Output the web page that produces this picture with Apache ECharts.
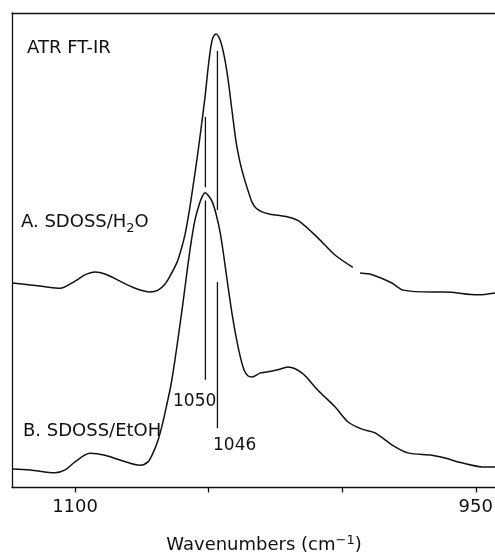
<!DOCTYPE html>
<html>
<head>
<meta charset="utf-8">
<script src="https://cdn.jsdelivr.net/npm/echarts@6/dist/echarts.min.js"></script>
<style>html,body{margin:0;padding:0;background:#fff}#c{width:495px;height:555px}</style>
</head>
<body>
<div id="c"></div>
<script>
// Spectrum A: SDOSS/H2O (wavenumber, relative absorbance); null = break in trace
const aWave = [1123.6,1116.8,1111.2,1105.6,1100,1096.3,1092.5,1088.8,1083.2,1077.5,1071.9,1068.9,1066.3,1064.4,1061.8,1060.3,1058.8,1057.3,1055.8,1054.3,1052.8,1051.3,1050.2,1049.1,1048.4,1047.2,1045.7,1044.2,1042.7,1041.2,1039.7,1038.2,1036.7,1035.2,1033.8,1032.3,1030.0,1027.0,1020.3,1015.8,1009.1,1002.7,996.0,994.6,993.3,988.5,981.4,977.2,966.4,961.5,949.2,942.8];
const aAbs = [43.1,42.7,42.3,42.0,43.5,44.8,45.4,45.0,43.5,42.0,41.2,41.6,42.9,44.6,47.5,50.1,53.4,58.1,63.6,69.4,75.8,82.5,88.4,93.1,94.8,95.6,94.3,91.0,85.9,79.2,72.8,68.4,65.2,62.5,60.2,58.9,58.1,57.6,57.0,56.0,52.6,49.0,46.4,null,45.2,44.8,43.1,41.6,41.2,41.2,40.6,41.0];
// Spectrum B: SDOSS/EtOH
const bWave = [1123.6,1116.8,1107.5,1103.7,1100,1094.4,1088.8,1083.2,1075.7,1072.7,1070.8,1068.9,1067.1,1065.6,1064.1,1062.6,1061.1,1059.6,1058.1,1056.6,1055.1,1053.6,1052.5,1051.3,1050.2,1048.7,1047.2,1045.7,1044.2,1042.7,1041.2,1039.7,1038.2,1036.7,1035.2,1033.8,1030.8,1028.9,1024.0,1020.3,1015.0,1009.1,1002.7,997.8,992.6,987.7,981.4,975.4,966.4,961.5,955.2,946.6,942.8];
const bAbs = [3.9,3.7,3.1,3.7,5.4,7.2,6.8,5.8,4.7,5.4,7.3,10.0,13.8,17.6,21.6,26.9,32.8,38.9,45.4,51.5,56.4,59.5,61.2,62.1,61.6,60.3,57.6,53.8,48.3,42.2,36.5,31.7,27.7,24.7,23.5,23.3,24.1,24.3,24.8,25.4,24.1,20.5,17.0,13.8,12.3,11.5,9.0,7.3,6.8,6.2,5.2,4.3,4.3];
// Peak marker lines: position and [top, bottom] of each drawn segment
const markerWave = [1051.2, 1046.7];
const markerLabels = ['1050', '1046'];
const markerSegments = [
  [[78.1, 63.3], [60.5, 22.7]],
  [[92.0, 58.5], [43.3, 12.5]]
];
// Axis
const xMin = 942.8, xMax = 1123.6;
const tickValues = [1100, 1050, 1000, 950];
const tickLabelValues = [1100, 950];
const xTitle = 'Wavenumbers (cm{sup|−1})';

function pieces(w, v) {
  const out = []; let cur = [];
  for (let i = 0; i < w.length; i++) {
    if (v[i] === null) { if (cur.length) out.push(cur); cur = []; }
    else cur.push([w[i], v[i]]);
  }
  if (cur.length) out.push(cur);
  return out;
}

const INK = '#111';
const FONT = 'DejaVu Sans';
const series = [];
[[aWave, aAbs], [bWave, bAbs]].forEach(([w, v]) => {
  pieces(w, v).forEach(p => series.push({
    type: 'line', data: p, smooth: 0.3, showSymbol: false, symbol: 'none',
    lineStyle: { color: INK, width: 1.5 }, silent: true, animation: false
  }));
});
markerWave.forEach((w, i) => {
  markerSegments[i].forEach(seg => series.push({
    type: 'line', data: [[w, seg[0]], [w, seg[1]]], showSymbol: false, symbol: 'none',
    lineStyle: { color: INK, width: 1.3 }, silent: true, animation: false
  }));
});

const chart = echarts.init(document.getElementById('c'));
chart.setOption({
  backgroundColor: '#fff',
  animation: false,
  grid: { left: 12, top: 13, right: 0, bottom: 67.5, containLabel: false, outerBoundsMode: 'none' },
  xAxis: [{
    type: 'value', min: xMin, max: xMax, inverse: true, position: 'bottom',
    axisLine: { show: true, lineStyle: { color: INK, width: 1.3 } },
    axisTick: { show: true, customValues: tickValues, length: 5, inside: false, lineStyle: { color: INK, width: 1.3 } },
    axisLabel: { customValues: tickLabelValues, color: INK, fontSize: 18, fontFamily: FONT, margin: 11,
      formatter: v => String(v) },
    splitLine: { show: false },
    name: xTitle, nameLocation: 'middle', nameGap: 47,
    nameTextStyle: { color: INK, fontSize: 18, fontFamily: FONT, padding: [0, 0, 0, 21],
      rich: { sup: { fontSize: 13, fontFamily: FONT, color: INK, padding: [0, 0, 9, 0] } } }
  }, {
    type: 'value', min: xMin, max: xMax, inverse: true, position: 'top',
    axisLine: { show: true, lineStyle: { color: INK, width: 1.3 } },
    axisTick: { show: false }, axisLabel: { show: false }, splitLine: { show: false }
  }],
  yAxis: {
    type: 'value', min: 0, max: 100,
    axisLine: { show: true, lineStyle: { color: INK, width: 1.3 } },
    axisTick: { show: false }, axisLabel: { show: false }, splitLine: { show: false }
  },
  series: series,
  graphic: [
    { type: 'text', x: 27, y: 48, style: { text: 'ATR FT-IR', font: '18px ' + FONT, fill: INK, verticalAlign: 'middle' } },
    { type: 'text', x: 21, y: 224, style: {
      text: '{m|A. SDOSS/H}{s|2}{m|O}', verticalAlign: 'middle', fill: INK,
      rich: { m: { fontSize: 18, fontFamily: FONT, lineHeight: 22, verticalAlign: 'top', fill: INK },
              s: { fontSize: 13, fontFamily: FONT, lineHeight: 14, padding: [10, 0, 0, 0], verticalAlign: 'bottom', fill: INK } } } },
    { type: 'text', x: 23, y: 431, style: { text: 'B. SDOSS/EtOH', font: '18px ' + FONT, fill: INK, verticalAlign: 'middle' } },
    { type: 'text', x: 173, y: 402, style: { text: markerLabels[0], font: '17px ' + FONT, fill: INK, verticalAlign: 'middle' } },
    { type: 'text', x: 213, y: 446, style: { text: markerLabels[1], font: '17px ' + FONT, fill: INK, verticalAlign: 'middle' } }
  ]
});
</script>
</body>
</html>
